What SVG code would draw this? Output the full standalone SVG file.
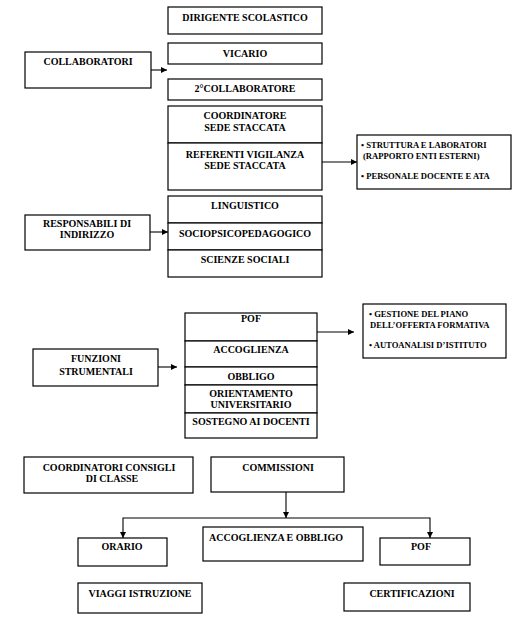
<svg xmlns="http://www.w3.org/2000/svg" width="529" height="632" viewBox="0 0 529 632">
<style>
rect{fill:#fff;stroke:#000;stroke-width:1.2}
text{font-family:"Liberation Serif","Times New Roman",serif;font-weight:bold;font-size:10px;fill:#000;text-anchor:middle}
text.b{font-size:8.6px;text-anchor:start}
.c{fill:none;stroke:#000;stroke-width:1.1}
</style>
<defs>
<marker id="ah" markerUnits="userSpaceOnUse" markerWidth="7" markerHeight="7" refX="6" refY="3" orient="auto">
<path d="M0,0 L6,3 L0,6 z" fill="#000"/>
</marker>
</defs>
<rect x="0" y="0" width="529" height="632" style="stroke:none"/>
<g id="dirigente"><rect x="168" y="7" width="154" height="27"/><text x="245" y="21">DIRIGENTE SCOLASTICO</text></g>
<g id="vicario"><rect x="168" y="43" width="154" height="21"/><text x="245" y="57">VICARIO</text></g>
<g id="collaboratori"><rect x="25" y="52" width="126" height="36"/><text x="88" y="65">COLLABORATORI</text></g>
<g id="collab2"><rect x="168" y="79" width="154" height="21"/><text x="245" y="92">2°COLLABORATORE</text></g>
<g id="coordinatore"><rect x="168" y="106" width="154" height="37"/><text x="245" y="119">COORDINATORE</text><text x="245" y="131">SEDE STACCATA</text></g>
<g id="referenti"><rect x="168" y="143" width="154" height="47"/><text x="245" y="158">REFERENTI VIGILANZA</text><text x="245" y="169">SEDE STACCATA</text></g>
<g id="bullet1"><rect x="357" y="135" width="154" height="54"/><text class="b" x="361" y="148">• STRUTTURA E LABORATORI</text><text class="b" x="363" y="159">(RAPPORTO ENTI ESTERNI)</text><text class="b" x="361" y="179">• PERSONALE DOCENTE E ATA</text></g>
<g id="responsabili"><rect x="25" y="215" width="125" height="35"/><text x="87" y="227">RESPONSABILI DI</text><text x="87" y="238">INDIRIZZO</text></g>
<g id="linguistico"><rect x="168" y="196" width="154" height="27"/><text x="245" y="209">LINGUISTICO</text></g>
<g id="sociopsico"><rect x="168" y="223" width="154" height="27"/><text x="245" y="237">SOCIOPSICOPEDAGOGICO</text></g>
<g id="scienze"><rect x="168" y="250" width="154" height="27"/><text x="245" y="263">SCIENZE SOCIALI</text></g>
<g id="funzioni"><rect x="33" y="349" width="125" height="37"/><text x="96" y="362">FUNZIONI</text><text x="96" y="375">STRUMENTALI</text></g>
<g id="pof1"><rect x="185" y="313" width="132" height="28"/><text x="251" y="322">POF</text></g>
<g id="accoglienza1"><rect x="185" y="341" width="132" height="26"/><text x="251" y="353">ACCOGLIENZA</text></g>
<g id="obbligo"><rect x="185" y="367" width="132" height="18"/><text x="251" y="380">OBBLIGO</text></g>
<g id="orientamento"><rect x="185" y="385" width="132" height="28"/><text x="251" y="397">ORIENTAMENTO</text><text x="251" y="408">UNIVERSITARIO</text></g>
<g id="sostegno"><rect x="185" y="413" width="132" height="25"/><text x="251" y="425">SOSTEGNO AI DOCENTI</text></g>
<g id="bullet2"><rect x="363" y="304" width="143" height="54"/><text class="b" x="369" y="317">• GESTIONE DEL PIANO</text><text class="b" x="370" y="328">DELL’OFFERTA FORMATIVA</text><text class="b" x="369" y="348">• AUTOANALISI D’ISTITUTO</text></g>
<g id="coordinatori"><rect x="24" y="457" width="169" height="36"/><text x="109" y="471">COORDINATORI CONSIGLI</text><text x="112" y="482">DI CLASSE</text></g>
<g id="commissioni"><rect x="211" y="457" width="133" height="35"/><text x="278" y="471">COMMISSIONI</text></g>
<g id="orario"><rect x="78" y="538" width="89" height="28"/><text x="122" y="550">ORARIO</text></g>
<g id="accoglienza2"><rect x="203" y="527" width="160" height="34"/><text x="276" y="541">ACCOGLIENZA E OBBLIGO</text></g>
<g id="pof2"><rect x="380" y="538" width="90" height="27"/><text x="421" y="550">POF</text></g>
<g id="viaggi"><rect x="78" y="583" width="124" height="30"/><text x="140" y="597">VIAGGI ISTRUZIONE</text></g>
<g id="certificazioni"><rect x="344" y="583" width="126" height="28"/><text x="412" y="597">CERTIFICAZIONI</text></g>
<g id="connectors">
<path class="c" d="M151,70 H167" marker-end="url(#ah)"/>
<path class="c" d="M322,162 H357" marker-end="url(#ah)"/>
<path class="c" d="M150,232 H168" marker-end="url(#ah)"/>
<path class="c" d="M158,367 H177" marker-end="url(#ah)"/>
<path class="c" d="M317,332 H354" marker-end="url(#ah)"/>
<path class="c" d="M286,492 V518" marker-end="url(#ah)"/>
<path class="c" d="M286,518 H123 V538" marker-end="url(#ah)"/>
<path class="c" d="M286,518 H430 V538" marker-end="url(#ah)"/>
</g>
</svg>
